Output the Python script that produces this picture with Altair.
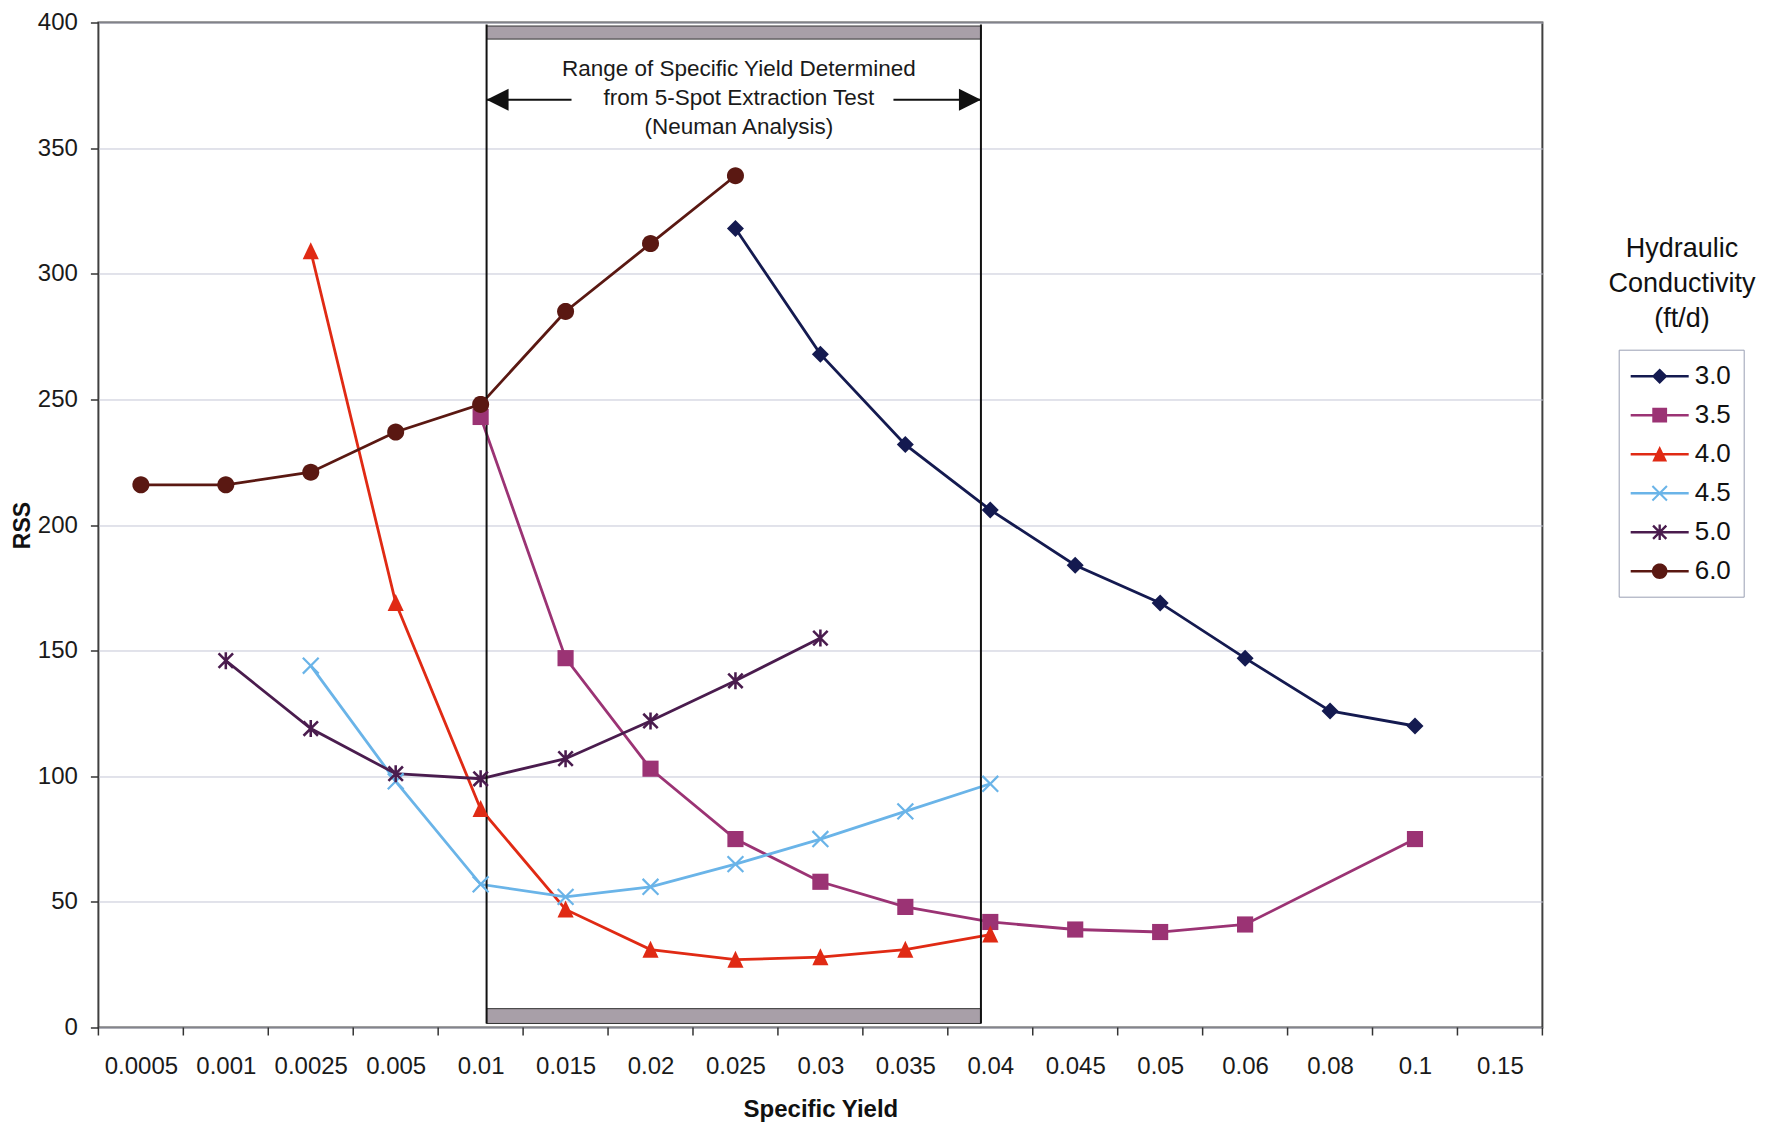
import math
import altair as alt
import pandas as pd

# ---------------- data ----------------
categories = ["0.0005", "0.001", "0.0025", "0.005", "0.01", "0.015", "0.02", "0.025",
              "0.03", "0.035", "0.04", "0.045", "0.05", "0.06", "0.08", "0.1", "0.15"]
series_names = ["3.0", "3.5", "4.0", "4.5", "5.0", "6.0"]
N = None
rss_3_0 = [N, N, N, N, N, N, N, 318, 268, 232, 206, 184, 169, 147, 126, 120, N]
rss_3_5 = [N, N, N, N, 243, 147, 103, 75, 58, 48, 42, 39, 38, 41, N, 75, N]
rss_4_0 = [N, N, 309, 169, 87, 47, 31, 27, 28, 31, 37, N, N, N, N, N, N]
rss_4_5 = [N, N, 144, 98, 57, 52, 56, 65, 75, 86, 97, N, N, N, N, N, N]
rss_5_0 = [N, 146, 119, 101, 99, 107, 122, 138, 155, N, N, N, N, N, N, N, N]
rss_6_0 = [216, 216, 221, 237, 248, 285, 312, 339, N, N, N, N, N, N, N, N, N]
series_values = [rss_3_0, rss_3_5, rss_4_0, rss_4_5, rss_5_0, rss_6_0]
series_colors = ["#141a50", "#9b3374", "#e02a14", "#6ab4e8", "#4a1c4e", "#5a1812"]
series_markers = ["diamond", "square", "triangle", "x", "star", "circle"]

# annotation (range of specific yield from the 5-spot test), in category-index / RSS units
sy_range = [4.07, 9.89]
bar_top = [393.4, 398.6]
bar_bottom = [1.6, 7.5]
range_line_span = [1.6, 399.2]
arrow_y = 369.3
arrow_tails = [5.07, 8.86]
note_lines = ["Range of Specific Yield Determined", "from 5-Spot Extraction Test", "(Neuman Analysis)"]
note_x, note_y = 7.04, 381.3
legend_title_lines = ["Hydraulic", "Conductivity", "(ft/d)"]

# ---------------- tables ----------------
rows = []
for name, vals in zip(series_names, series_values):
    for i, v in enumerate(vals):
        if v is not None:
            rows.append({"K": name, "idx": i, "rss": v})
df = pd.DataFrame(rows)

FONT = "Liberation Sans"
W, H = 1444, 1005
TOP = 14.5


# ---------------- symbol paths ----------------
def seg(x1, y1, x2, y2, t):
    dx, dy = x2 - x1, y2 - y1
    L = math.hypot(dx, dy)
    nx, ny = -dy / L * t, dx / L * t
    return [(x1 + nx, y1 + ny), (x2 + nx, y2 + ny), (x2 - nx, y2 - ny), (x1 - nx, y1 - ny)]


def poly(pts):
    n = len(pts)
    a = sum(pts[i][0] * pts[(i + 1) % n][1] - pts[(i + 1) % n][0] * pts[i][1] for i in range(n))
    if a < 0:
        pts = pts[::-1]
    return "M" + "L".join(f"{x:.3f},{y:.3f}" for x, y in pts) + "Z"


def marker_polys(kind):
    if kind == "diamond":
        return [[(0, -1.0), (1.0, 0), (0, 1.0), (-1.0, 0)]]
    if kind == "square":
        return [[(-0.95, -0.95), (0.95, -0.95), (0.95, 0.95), (-0.95, 0.95)]]
    if kind == "triangle":
        return [[(0, -1.05), (0.95, 0.95), (-0.95, 0.95)]]
    if kind == "x":
        return [seg(-0.93, -0.93, 0.93, 0.93, 0.13), seg(-0.93, 0.93, 0.93, -0.93, 0.13)]
    if kind == "star":
        return [seg(-0.85, -0.85, 0.85, 0.85, 0.15), seg(-0.85, 0.85, 0.85, -0.85, 0.15),
                seg(0, -1.0, 0, 1.0, 0.15)]
    return [[(math.cos(2 * math.pi * k / 32), math.sin(2 * math.pi * k / 32)) for k in range(32)]]


def marker_path(kind):
    return "".join(poly(p) for p in marker_polys(kind))


LEG_SIZE = 841           # sqrt -> 29px, 14.5 px per unit
LEG_UNIT = 14.5
MARK_UNIT = 8.5


def legend_path(kind):
    s = 7.8 / LEG_UNIT
    parts = [poly(seg(-1.0, 0, 3.0, 0, 1.3 / LEG_UNIT))]
    for p in marker_polys(kind):
        parts.append(poly([(x * s + 1.0, y * s) for x, y in p]))
    return "".join(parts)


legend_paths = [legend_path(k) for k in series_markers]

x_scale = alt.Scale(domain=[-0.5, 16.5], nice=False, zero=False)
y_scale = alt.Scale(domain=[0, 400], nice=False, zero=False)
label_expr = "[" + ",".join(f"'{c}'" for c in categories) + "][datum.value]"

x_enc = alt.X("idx:Q", scale=x_scale,
              axis=alt.Axis(values=list(range(17)), labelExpr=label_expr, ticks=False, tickSize=0,
                            domain=False, grid=False, labelPadding=27, labelFont=FONT,
                            labelFontSize=24, labelColor="#1a1a1a", title="Specific Yield",
                            titleFont=FONT, titleFontSize=24, titleFontWeight="bold",
                            titleColor="#111111", titlePadding=19))
y_enc = alt.Y("rss:Q", scale=y_scale,
              axis=alt.Axis(values=list(range(0, 401, 50)), tickSize=8, tickColor="#333333",
                            tickWidth=1.5, domain=False, grid=True, gridColor="#c4c6d6",
                            gridWidth=1, labelPadding=13, labelFont=FONT, labelFontSize=24,
                            labelColor="#1a1a1a", title="RSS", titleFont=FONT,
                            titleFontSize=23, titleFontWeight="bold", titleColor="#111111",
                            titlePadding=3))

base = alt.Chart(df)

line_layers = []
point_layers = []
for i, (name, kind, col) in enumerate(zip(series_names, series_markers, series_colors)):
    sub = base.transform_filter(alt.datum.K == name)
    enc_x = x_enc if i == 0 else alt.X("idx:Q")
    enc_y = y_enc if i == 0 else alt.Y("rss:Q")
    line_layers.append(sub.mark_line(strokeWidth=2.8, color=col).encode(x=enc_x, y=enc_y))
    point_layers.append(
        sub.mark_point(shape=marker_path(kind), filled=True, size=MARK_UNIT * MARK_UNIT * 4,
                       opacity=1, strokeWidth=0, color=col).encode(x="idx:Q", y="rss:Q")
    )

legend_props = dict(title=None, orient="none", legendX=1520.3, legendY=351.7 - 8 - TOP - 2,
                    strokeColor="#9aa0b4", fillColor="#ffffff", padding=12, labelFont=FONT,
                    labelFontSize=26, labelColor="#111111", labelOffset=35, rowPadding=11,
                    symbolSize=LEG_SIZE, symbolStrokeWidth=0)
legend_df = pd.DataFrame({"K": series_names, "idx": [0] * 6, "rss": [None] * 6})
legend_layer = alt.Chart(legend_df).mark_point(
    filled=True, opacity=1, size=LEG_SIZE, strokeWidth=0
).encode(
    x="idx:Q", y="rss:Q",
    color=alt.Color("K:N", scale=alt.Scale(domain=series_names, range=series_colors),
                    legend=alt.Legend(**legend_props)),
    shape=alt.Shape("K:N", scale=alt.Scale(domain=series_names, range=legend_paths),
                    legend=alt.Legend(**legend_props)),
)

# ---- annotation: range of specific yield ----
range_df = pd.DataFrame({"lo": [sy_range[0]], "hi": [sy_range[1]],
                         "t0": [bar_top[0]], "t1": [bar_top[1]],
                         "b0": [bar_bottom[0]], "b1": [bar_bottom[1]]})
top_bar = alt.Chart(range_df).mark_rect(fill="#a89fa8", stroke="#333333", strokeWidth=1).encode(
    x="lo:Q", x2="hi:Q", y="t0:Q", y2="t1:Q")
bottom_bar = alt.Chart(range_df).mark_rect(fill="#a89fa8", stroke="#333333", strokeWidth=1).encode(
    x="lo:Q", x2="hi:Q", y="b0:Q", y2="b1:Q")
vlines_df = pd.DataFrame({"x": sy_range, "y0": [range_line_span[0]] * 2, "y1": [range_line_span[1]] * 2})
vlines = alt.Chart(vlines_df).mark_rule(color="#111111", strokeWidth=2).encode(
    x="x:Q", y="y0:Q", y2="y1:Q")

arrow_df = pd.DataFrame({"tail": arrow_tails, "tip": sy_range, "y": [arrow_y] * 2})
shafts = alt.Chart(arrow_df).mark_rule(color="#111111", strokeWidth=2).encode(
    x="tail:Q", x2="tip:Q", y="y:Q")
left_head = alt.Chart(arrow_df.iloc[[0]]).mark_point(
    shape="M0,0L2,-1L2,1Z", size=484, filled=True, opacity=1, color="#111111", strokeWidth=0
).encode(x="tip:Q", y="y:Q")
right_head = alt.Chart(arrow_df.iloc[[1]]).mark_point(
    shape="M0,0L-2,-1L-2,1Z", size=484, filled=True, opacity=1, color="#111111", strokeWidth=0
).encode(x="tip:Q", y="y:Q")

note_df = pd.DataFrame({"x": [note_x], "y": [note_y]})
note = alt.Chart(note_df).mark_text(
    text=note_lines, font=FONT, fontSize=22.5, color="#1a1a1a", align="center",
    baseline="middle", lineHeight=28.9
).encode(x="x:Q", y="y:Q")

# boundary tick marks of the category axis
tick_df = pd.DataFrame({"b": [i - 0.5 for i in range(18)]})
xticks = alt.Chart(tick_df).mark_rule(color="#333333", strokeWidth=1.5).encode(
    x="b:Q", y=alt.value(H), y2=alt.value(H + 8))

# legend title
ltitle = alt.Chart(pd.DataFrame({"d": [0]})).mark_text(
    text=legend_title_lines, font=FONT, fontSize=27, color="#111111", align="center",
    baseline="middle", lineHeight=35
).encode(x=alt.value(1583.6), y=alt.value(249 - 8 - TOP))

chart = alt.layer(
    *line_layers, top_bar, bottom_bar, vlines, shafts, left_head, right_head, note,
    *point_layers, legend_layer, xticks, ltitle
).properties(
    width=W, height=H,
    autosize=alt.AutoSizeParams(type="none"),
    padding={"left": 90.4, "top": TOP, "right": 218, "bottom": 95},
    background="#ffffff",
).configure_view(
    stroke="#404040", strokeWidth=2, fill="#ffffff"
)

chart.save("out.html", embed_options={"renderer": "svg", "actions": False})
